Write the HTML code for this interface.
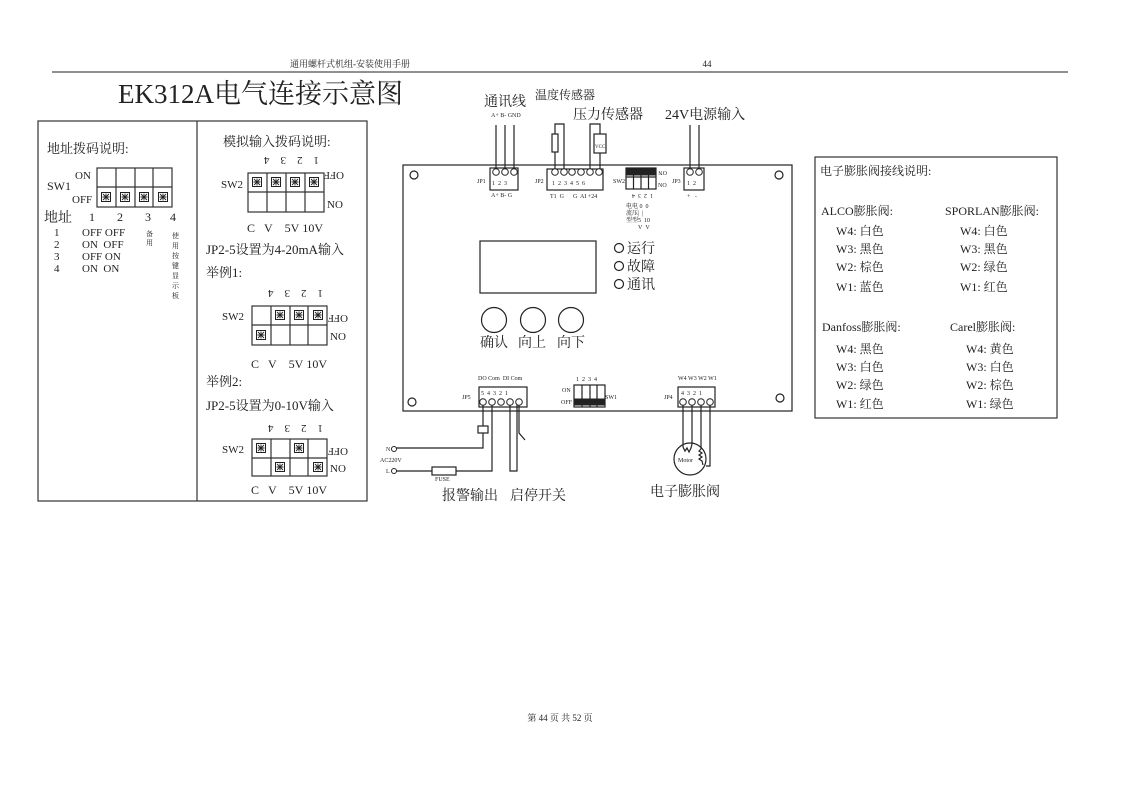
<!DOCTYPE html>
<html><head><meta charset="utf-8"><style>
html,body{margin:0;padding:0;background:#fff;}
svg{display:block;}
text{font-family:"Liberation Serif","Noto Serif CJK SC",serif;fill:#222;}
</style></head><body>
<svg width="1121" height="793" viewBox="0 0 1121 793" xmlns="http://www.w3.org/2000/svg">
<defs>
<g id="m"><rect x="-4.5" y="-4.5" width="9" height="9" fill="#fff" stroke="#222" stroke-width="1"/><path d="M-3,-3L3,3M3,-3L-3,3M0,-3.5V3.5M-3.5,0H3.5" stroke="#222" stroke-width="0.9"/></g>
<g id="b"><rect x="-3.5" y="-3.5" width="7" height="7" fill="#222"/></g>
<circle id="c" r="3.3" fill="#fff" stroke="#222" stroke-width="1"/>
</defs>
<g stroke="#222" fill="none" stroke-width="1">
<!-- header -->
<line x1="52" y1="72" x2="1068" y2="72"/>
</g>
<text x="350" y="67" font-size="9" text-anchor="middle">通用螺杆式机组-安装使用手册</text>
<text x="707" y="67" font-size="9" text-anchor="middle">44</text>
<text x="118" y="103" font-size="27">EK312A电气连接示意图</text>

<!-- left panel -->
<g stroke="#333" fill="none" stroke-width="1.2">
<rect x="38" y="121" width="329" height="380"/>
<line x1="197" y1="121" x2="197" y2="501"/>
<!-- SW1 grid -->
<rect x="97" y="168" width="75" height="39"/>
<line x1="97" y1="187" x2="172" y2="187"/>
<line x1="116" y1="168" x2="116" y2="207"/><line x1="135" y1="168" x2="135" y2="207"/><line x1="153" y1="168" x2="153" y2="207"/>
<!-- SW2 grid1 -->
<rect x="248" y="173" width="76" height="39"/>
<line x1="248" y1="192" x2="324" y2="192"/>
<line x1="267" y1="173" x2="267" y2="212"/><line x1="286" y1="173" x2="286" y2="212"/><line x1="305" y1="173" x2="305" y2="212"/>
<!-- ex1 -->
<rect x="252" y="306" width="75" height="39"/>
<line x1="252" y1="325" x2="327" y2="325"/>
<line x1="271" y1="306" x2="271" y2="345"/><line x1="290" y1="306" x2="290" y2="345"/><line x1="308" y1="306" x2="308" y2="345"/>
<!-- ex2 -->
<rect x="252" y="439" width="75" height="37"/>
<line x1="252" y1="458" x2="327" y2="458"/>
<line x1="271" y1="439" x2="271" y2="476"/><line x1="290" y1="439" x2="290" y2="476"/><line x1="308" y1="439" x2="308" y2="476"/>
</g>
<use href="#m" x="106" y="197"/><use href="#m" x="125" y="197"/><use href="#m" x="144" y="197"/><use href="#m" x="163" y="197"/>
<use href="#m" x="257" y="182"/><use href="#m" x="276" y="182"/><use href="#m" x="295" y="182"/><use href="#m" x="314" y="182"/>
<use href="#m" x="280" y="315"/><use href="#m" x="299" y="315"/><use href="#m" x="318" y="315"/><use href="#m" x="261" y="335"/>
<use href="#m" x="261" y="448"/><use href="#m" x="299" y="448"/><use href="#m" x="280" y="467"/><use href="#m" x="318" y="467"/>

<text x="47" y="153" font-size="13">地址拨码说明:</text>
<text x="47" y="190" font-size="12">SW1</text>
<text x="75" y="179" font-size="11">ON</text>
<text x="72" y="203" font-size="11">OFF</text>
<text x="44" y="222" font-size="14">地址</text>
<g font-size="12"><text x="89" y="221">1</text><text x="117" y="221">2</text><text x="145" y="221">3</text><text x="170" y="221">4</text></g>
<g font-size="11">
<text x="54" y="236">1</text><text x="82" y="236">OFF OFF</text>
<text x="54" y="248">2</text><text x="82" y="248">ON&#160;&#160;OFF</text>
<text x="54" y="260">3</text><text x="82" y="260">OFF ON</text>
<text x="54" y="272">4</text><text x="82" y="272">ON&#160;&#160;ON</text>
</g>
<g font-size="7"><text x="146" y="236">备</text><text x="146" y="245">用</text>
<text x="172" y="238">使</text><text x="172" y="248">用</text><text x="172" y="258">按</text><text x="172" y="268">键</text><text x="172" y="278">显</text><text x="172" y="288">示</text><text x="172" y="298">板</text></g>

<text x="223" y="146" font-size="13">模拟输入拨码说明:</text>
<g font-size="11">
<g transform="rotate(180 286 161)"><text x="253" y="165">1&#160;&#160;&#160;&#160;2&#160;&#160;&#160;&#160;3&#160;&#160;&#160;&#160;4</text></g>
<text x="221" y="188">SW2</text>
<text x="326" y="200" transform="rotate(180 335 186)" >OFF</text>
<text x="327" y="208">NO</text>
<text x="247" y="232" font-size="12">C&#160;&#160;&#160;V&#160;&#160;&#160;&#160;5V&#160;10V</text>
</g>
<text x="206" y="254" font-size="13">JP2-5设置为4-20mA输入</text>
<text x="206" y="277" font-size="13">举例1:</text>
<g font-size="11">
<g transform="rotate(180 290 294)"><text x="257" y="298">1&#160;&#160;&#160;&#160;2&#160;&#160;&#160;&#160;3&#160;&#160;&#160;&#160;4</text></g>
<text x="222" y="320">SW2</text>
<text x="328" y="323" transform="rotate(180 338 319)">OFF</text>
<text x="330" y="340">NO</text>
<text x="251" y="368" font-size="12">C&#160;&#160;&#160;V&#160;&#160;&#160;&#160;5V&#160;10V</text>
</g>
<text x="206" y="386" font-size="13">举例2:</text>
<text x="206" y="410" font-size="13">JP2-5设置为0-10V输入</text>
<g font-size="11">
<g transform="rotate(180 290 429)"><text x="257" y="433">1&#160;&#160;&#160;&#160;2&#160;&#160;&#160;&#160;3&#160;&#160;&#160;&#160;4</text></g>
<text x="222" y="453">SW2</text>
<text x="328" y="456" transform="rotate(180 338 452)">OFF</text>
<text x="330" y="472">NO</text>
<text x="251" y="494" font-size="12">C&#160;&#160;&#160;V&#160;&#160;&#160;&#160;5V&#160;10V</text>
</g>

<!-- board -->
<g stroke="#222" fill="none" stroke-width="1.2">
<rect x="403" y="165" width="389" height="246"/>
<circle cx="414" cy="175" r="4"/><circle cx="779" cy="175" r="4"/><circle cx="412" cy="402" r="4"/><circle cx="780" cy="398" r="4"/>
<!-- JP1 -->
<rect x="490" y="168" width="28" height="22"/>
<path d="M496,172V125M505,172V125M514,172V125"/>
<!-- JP2 -->
<rect x="547" y="169" width="56" height="21"/>
<path d="M555,172V124H564V172"/>
<rect x="552" y="134" width="6" height="18" fill="#fff"/>
<path d="M590,172V124H600V172"/>
<rect x="594" y="134" width="12" height="19" fill="#fff"/>
<!-- SW2 board -->
<rect x="626" y="168" width="30" height="21"/>
<path d="M626,177H656M633.5,168V189M641,168V189M648.5,168V189"/>
<!-- JP3 -->
<rect x="684" y="168" width="20" height="22"/>
<path d="M690,172V125M699,172V125"/>
<!-- display -->
<rect x="480" y="241" width="116" height="52"/>
<circle cx="494" cy="320" r="12.5"/><circle cx="533" cy="320" r="12.5"/><circle cx="571" cy="320" r="12.5"/>
<circle cx="619" cy="248" r="4.5"/><circle cx="619" cy="266" r="4.5"/><circle cx="619" cy="284" r="4.5"/>
<!-- JP5 -->
<rect x="479" y="387" width="48" height="20"/>
<path d="M483,402V426M483,433V448H394M492,402V471H456M432,471H394"/>
<rect x="478" y="426" width="10" height="7" fill="#fff"/>
<rect x="432" y="467" width="24" height="8" fill="#fff"/>
<path d="M510,402V471H517V402"/>
<path d="M519,402V433L525,440"/>
<!-- SW1 board -->
<rect x="574" y="385" width="31" height="22"/>
<path d="M582,385V407M590,385V407M597,385V407"/>
<!-- JP4 -->
<rect x="678" y="387" width="37" height="20"/>
<circle cx="690" cy="459" r="16"/>
<path d="M683,402V447M692,402V444M701,402V449M710,402V466H706"/>
<path d="M683,447L685,451L687,448L689,452L691,448L692,444"/>
<path d="M701,449L699,451L702,453L699,455L702,457L699,459L702,461L703,465"/>
</g>
<g>
<use href="#c" x="496" y="172"/><use href="#c" x="505" y="172"/><use href="#c" x="514" y="172"/>
<use href="#c" x="555" y="172"/><use href="#c" x="564" y="172"/><use href="#c" x="572" y="172"/><use href="#c" x="581" y="172"/><use href="#c" x="590" y="172"/><use href="#c" x="599" y="172"/>
<use href="#c" x="690" y="172"/><use href="#c" x="699" y="172"/>
<use href="#c" x="483" y="402"/><use href="#c" x="492" y="402"/><use href="#c" x="501" y="402"/><use href="#c" x="510" y="402"/><use href="#c" x="519" y="402"/>
<use href="#c" x="683" y="402"/><use href="#c" x="692" y="402"/><use href="#c" x="701" y="402"/><use href="#c" x="710" y="402"/>
<circle cx="394" cy="449" r="2.5" fill="#fff" stroke="#222"/><circle cx="394" cy="471" r="2.5" fill="#fff" stroke="#222"/>
</g>
<use href="#b" x="630" y="172"/><use href="#b" x="637" y="172"/><use href="#b" x="645" y="172"/><use href="#b" x="652" y="172"/>
<use href="#b" x="578" y="402"/><use href="#b" x="586" y="402"/><use href="#b" x="593" y="402"/><use href="#b" x="601" y="402"/>

<g font-size="6">
<text x="491" y="117">A+ B- GND</text>
<text x="477" y="183">JP1</text>
<text x="492" y="185">1&#160; 2&#160; 3</text>
<text x="491" y="197">A+ B- G</text>
<text x="535" y="183">JP2</text>
<text x="552" y="185">1&#160; 2&#160; 3&#160; 4&#160; 5&#160; 6</text>
<text x="550" y="198">T1&#160; G&#160;&#160;&#160;&#160;&#160; G&#160; AI +24</text>
<text x="595" y="148" font-size="5">VCC</text>
<text x="613" y="183">SW2</text>
<text x="657" y="175" transform="rotate(180 662 173)">ON</text>
<text x="658" y="187">NO</text>
<text x="627" y="198" transform="rotate(180 640 196)">1&#160; 2&#160; 3&#160; 4</text>
<text x="626" y="208">电电 0&#160; 0</text>
<text x="626" y="215">流压|&#160;&#160;|</text>
<text x="626" y="222">型型5&#160; 10</text>
<text x="638" y="229">V&#160;&#160;V</text>
<text x="672" y="183">JP3</text>
<text x="687" y="185">1&#160; 2</text>
<text x="687" y="198">+&#160;&#160; -</text>
<text x="478" y="380">DO Com&#160; DI Com</text>
<text x="481" y="395">5&#160; 4&#160; 3&#160; 2&#160; 1</text>
<text x="462" y="399">JP5</text>
<text x="576" y="381">1&#160; 2&#160; 3&#160; 4</text>
<text x="562" y="392">ON</text>
<text x="561" y="404">OFF</text>
<text x="605" y="399">SW1</text>
<text x="678" y="380">W4 W3 W2 W1</text>
<text x="681" y="395">4&#160; 3&#160; 2&#160; 1</text>
<text x="664" y="399">JP4</text>
<text x="386" y="451">N</text>
<text x="380" y="462">AC220V</text>
<text x="386" y="473">L</text>
<text x="435" y="481">FUSE</text>
<text x="678" y="462">Motor</text>
</g>
<text x="484" y="106" font-size="14">通讯线</text>
<text x="535" y="99" font-size="12">温度传感器</text>
<text x="573" y="119" font-size="14">压力传感器</text>
<text x="665" y="119" font-size="14">24V电源输入</text>
<text x="627" y="253" font-size="14">运行</text>
<text x="627" y="271" font-size="14">故障</text>
<text x="627" y="289" font-size="14">通讯</text>
<text x="480" y="347" font-size="14">确认</text>
<text x="518" y="347" font-size="14">向上</text>
<text x="557" y="347" font-size="14">向下</text>
<text x="442" y="500" font-size="14">报警输出</text>
<text x="510" y="500" font-size="14">启停开关</text>
<text x="650" y="496" font-size="14">电子膨胀阀</text>

<!-- right panel -->
<rect x="815" y="157" width="242" height="261" fill="none" stroke="#333" stroke-width="1.2"/>
<g font-size="12">
<text x="820" y="175">电子膨胀阀接线说明:</text>
<text x="821" y="215">ALCO膨胀阀:</text>
<text x="945" y="215">SPORLAN膨胀阀:</text>
<text x="836" y="235">W4: 白色</text><text x="960" y="235">W4: 白色</text>
<text x="836" y="253">W3: 黑色</text><text x="960" y="253">W3: 黑色</text>
<text x="836" y="271">W2: 棕色</text><text x="960" y="271">W2: 绿色</text>
<text x="836" y="291">W1: 蓝色</text><text x="960" y="291">W1: 红色</text>
<text x="822" y="331">Danfoss膨胀阀:</text>
<text x="950" y="331">Carel膨胀阀:</text>
<text x="836" y="353">W4: 黑色</text><text x="966" y="353">W4: 黄色</text>
<text x="836" y="371">W3: 白色</text><text x="966" y="371">W3: 白色</text>
<text x="836" y="389">W2: 绿色</text><text x="966" y="389">W2: 棕色</text>
<text x="836" y="408">W1: 红色</text><text x="966" y="408">W1: 绿色</text>
</g>

<text x="560" y="721" font-size="9" text-anchor="middle">第 44 页 共 52 页</text>
</svg>
</body></html>
